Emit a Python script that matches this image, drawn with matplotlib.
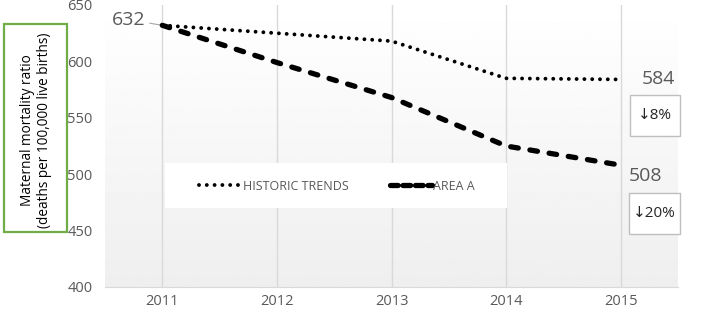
import matplotlib.pyplot as plt
import numpy as np
from matplotlib.patches import Rectangle
from matplotlib.lines import Line2D

plt.rcParams['font.family'] = ['Open Sans', 'DejaVu Sans']
plt.rcParams['lines.scale_dashes'] = False

years = [2011, 2012, 2013, 2014, 2015]
historic = [632, 625, 618, 585, 584]
area_a = [632, 599, 568, 525, 508]
series_names = ['HISTORIC TRENDS', 'AREA A']
change_labels = ['\u21938%', '\u219320%']
ylabel = 'Maternal mortality ratio\n(deaths per 100,000 live births)'

grey = '#595959'
W, H = 708, 311


def fig_box(x0, y0, x1, y1):
    # pixel box (top-left origin) -> figure fraction rect
    return (x0 / W, 1 - y1 / H), (x1 - x0) / W, (y1 - y0) / H


fig = plt.figure(figsize=(7.08, 3.11), dpi=100)
ax = fig.add_axes([105 / W, 24 / H, 573 / W, 282 / H])

# gradient background
grad = np.linspace(1.0, 0.935, 256).reshape(-1, 1)
ax.imshow(grad, cmap='gray', vmin=0, vmax=1, aspect='auto',
          extent=[0, 1, 0, 1], transform=ax.transAxes, zorder=0)

ax.set_xlim(2010.5, 2015.5)
ax.set_ylim(400, 650)
ax.set_xticks(years)
ax.set_yticks(range(400, 651, 50))
ax.tick_params(length=0, labelsize=10.5, colors=grey)
ax.tick_params(axis='x', pad=5)
ax.tick_params(axis='y', pad=9)
for s in ['top', 'right', 'left']:
    ax.spines[s].set_visible(False)
ax.spines['bottom'].set_color('#d9d9d9')
ax.grid(axis='x', color='#d9d9d9', lw=1, zorder=1)
ax.set_axisbelow(True)

dot_dashes = (0.01, 5.6)
dash_dashes = (5.5, 8.5)

ax.plot(years, historic, color='black', lw=2.8, dashes=dot_dashes,
        dash_capstyle='round', zorder=3)
ax.plot(years, area_a, color='black', lw=3.8, dashes=dash_dashes,
        dash_capstyle='round', zorder=4)

# value labels
ax.annotate(str(historic[0]), xy=(years[0], historic[0]), xytext=(-12, 4),
            textcoords='offset points', ha='right', va='center',
            fontsize=14, color=grey,
            arrowprops=dict(arrowstyle='-', color='#a6a6a6', lw=0.8,
                            shrinkA=1, shrinkB=0))
ax.annotate(str(historic[-1]), xy=(years[-1], historic[-1]), xytext=(15, 0),
            textcoords='offset points', ha='left', va='center',
            fontsize=14, color=grey)
ax.annotate(str(area_a[-1]), xy=(years[-1], area_a[-1]), xytext=(6, -8),
            textcoords='offset points', ha='left', va='center',
            fontsize=14, color=grey)

# change boxes
for (x0, y0, x1, y1), lab in zip([(630, 95, 680, 136), (629, 193, 680, 234)],
                                 change_labels):
    xy, w, h = fig_box(x0, y0, x1, y1)
    fig.patches.append(Rectangle(xy, w, h, transform=fig.transFigure,
                                 fc='white', ec='#bfbfbf', lw=1, zorder=5))
    fig.text(xy[0] + w / 2, xy[1] + h / 2, lab, ha='center', va='center',
             fontsize=11, color='#262626', zorder=6)

# legend on white panel
xy, w, h = fig_box(165, 163, 507, 208)
ax.add_patch(Rectangle(xy, w, h, transform=fig.transFigure,
                       fc='white', ec='none', zorder=1.5))
h1 = Line2D([], [], color='black', lw=2.8, dashes=dot_dashes,
            dash_capstyle='round')
h2 = Line2D([], [], color='black', lw=3.8, dashes=(5.5, 3.5),
            dash_capstyle='round')
leg = ax.legend([h1, h2], series_names, ncol=2, loc='center',
                bbox_to_anchor=((337 - 105) / 573, 1 - (186 - 5) / 282),
                frameon=False, fontsize=9,
                handlelength=3.4, handletextpad=0.1, columnspacing=3.3)
for t in leg.get_texts():
    t.set_color(grey)

# y label in green box
xy, w, h = fig_box(4, 24, 67, 232)
fig.patches.append(Rectangle(xy, w, h, transform=fig.transFigure,
                             fill=False, ec='#70ad47', lw=1.6, zorder=10))
fig.text(36 / W, 1 - 130 / H, ylabel, rotation=90, ha='center',
         va='center', fontsize=9.8, color='black', linespacing=1.25)

fig.savefig('out.png', dpi=100)
